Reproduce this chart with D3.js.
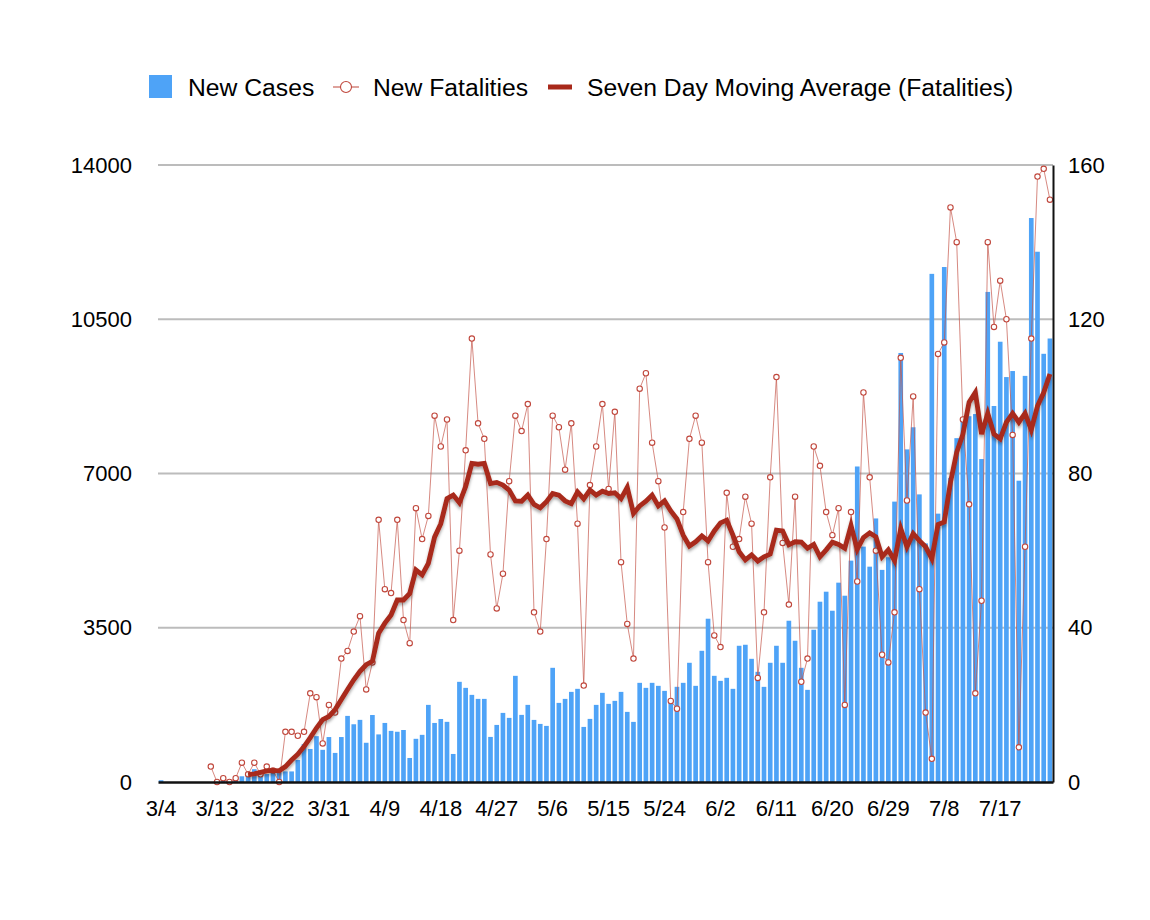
<!DOCTYPE html>
<html>
<head>
<meta charset="utf-8">
<script src="https://cdn.jsdelivr.net/npm/d3@7"></script>
<style>
	body { margin: 0; background: #fff; }
	svg { font-family: "Liberation Sans", Arial, Helvetica, sans-serif; }
</style>
</head>
<body>
<div id="chart01"></div>
<script>
// Days from 3/4 to 7/25 (one category per day)
var days = d3.timeDay
	.range(new Date(2020, 2, 4), new Date(2020, 6, 26))
	.map(d3.timeFormat("%-m/%-d"));

var tickLabels = ["3/4", "3/13", "3/22", "3/31", "4/9", "4/18", "4/27", "5/6",
	"5/15", "5/24", "6/2", "6/11", "6/20", "6/29", "7/8", "7/17"];
var leftTicks = [0, 3500, 7000, 10500, 14000];
var rightTicks = [0, 40, 80, 120, 160];

// New cases, one value per day (3/4 .. 7/25)
var newCases = [
	40, 0, 0, 0, 0, 0, 0, 0, 0, 0,
	30, 40, 60, 130, 170, 290, 160, 180, 270, 240,
	240, 240, 500, 860, 750, 1040, 730, 1020, 660, 1020,
	1500, 1310, 1410, 890, 1520, 1080, 1340, 1160, 1140, 1180,
	545, 980, 1070, 1750, 1340, 1430, 1365, 636, 2273, 2136,
	1977, 1886, 1886, 1023, 1295, 1568, 1455, 2409, 1523, 1750,
	1409, 1318, 1273, 2591, 1795, 1886, 2045, 2114, 1250, 1432,
	1750, 2023, 1773, 1841, 2045, 1591, 1364, 2250, 2136, 2250,
	2182, 2068, 1830, 2160, 2250, 2705, 2182, 2977, 3705, 2409,
	2295, 2364, 2114, 3091, 3114, 2795, 2500, 2159, 2705, 3091,
	2705, 3659, 3205, 2591, 2091, 3455, 4091, 4318, 3886, 4523,
	4227, 5023, 7159, 5341, 4886, 5980, 4813, 5100, 6362, 9735,
	7547, 8049, 6526, 5414, 11530, 6089, 11685, 6900, 7802, 8213,
	8300, 8349, 7328, 11120, 8532, 9990, 9188, 9325, 6836, 9215,
	12797, 12032, 9716, 10063
];

// New fatalities (null before the first report)
var newFatalities = [
	null, null, null, null, null, null, null, null, 4, 0,
	1, 0, 1, 5, 2, 5, 2, 4, 3, 0,
	13, 13, 12, 13, 23, 22, 10, 20, 18, 32,
	34, 39, 43, 24, 31, 68, 50, 49, 68, 42,
	36, 71, 63, 69, 95, 87, 94, 42, 60, 86,
	115, 93, 89, 59, 45, 54, 78, 95, 91, 98,
	44, 39, 63, 95, 92, 81, 93, 67, 25, 77,
	87, 98, 76, 96, 57, 41, 32, 102, 106, 88,
	78, 66, 21, 19, 70, 89, 95, 88, 57, 38,
	35, 75, 61, 63, 74, 67, 27, 44, 79, 105,
	62, 46, 74, 26, 32, 87, 82, 70, 64, 71,
	20, 70, 52, 101, 79, 60, 33, 31, 44, 110,
	73, 100, 50, 18, 6, 111, 114, 149, 140, 94,
	72, 23, 47, 140, 118, 130, 120, 90, 9, 61,
	115, 157, 159, 151
];

// Seven day moving average of fatalities (as drawn)
var movingAvg = [
	null, null, null, null, null, null, null, null, null, null,
	null, null, null, null, 1.9, 2.1, 2.5, 2.9, 3.0, 2.9,
	4.0, 5.7, 7.2, 9.2, 11.5, 14, 16.2, 17, 18.8, 21.4,
	24, 26.5, 28.7, 30.4, 31.3, 38.6, 41.2, 43.3, 47.2, 47.2,
	48.9, 55, 53.7, 56.7, 63.5, 67, 73.5, 74.4, 72.4, 76.6,
	82.6, 82.4, 82.6, 77.4, 77.7, 77, 75.7, 72.9, 72.8, 74.4,
	72, 71.1, 72.7, 74.8, 74.4, 72.9, 72.2, 75.2, 73.4, 75.7,
	74.4, 75.4, 74.8, 75, 73.5, 76.4, 69.7, 71.6, 72.8, 74.4,
	71.6, 72.9, 70.3, 68.2, 64, 61.2, 62.3, 63.8, 62.5, 65.1,
	67.2, 67.9, 64, 59.7, 57.6, 58.9, 57.3, 58.4, 59.1, 65.3,
	65.1, 61.5, 62.3, 62.2, 60.6, 61.6, 58.4, 60.2, 62.2, 61.6,
	60.6, 66.5, 60.3, 63.4, 64.6, 63.6, 58.4, 60.2, 57.4, 65.7,
	61, 64.4, 62.6, 61, 57.9, 66.8, 67.4, 77.7, 85.5, 90.2,
	98.5, 101, 90.2, 95.6, 90.2, 89, 93.3, 95.6, 93.3, 95.6,
	91.3, 97.5, 101, 105.8
];

var rows = days.map((d, i) => ({
	day: d,
	cases: newCases[i],
	deaths: newFatalities[i],
	avg: movingAvg[i]
}));

var width = 1150;
var height = 920;
var margin = { top: 165, right: 97, bottom: 138, left: 158 };

var svg = d3.select("#chart01").append("svg")
	.attr("width", width)
	.attr("height", height);

svg.append("rect").attr("width", width).attr("height", height).attr("fill", "#fff");

var defs = svg.append("defs");
defs.append("filter")
	.attr("id", "shadow")
	.attr("x", "-5%").attr("y", "-20%")
	.attr("width", "110%").attr("height", "140%")
	.append("feDropShadow")
	.attr("dx", 0).attr("dy", 2.5)
	.attr("stdDeviation", 1.6)
	.attr("flood-color", "#000")
	.attr("flood-opacity", 0.35);

var x = d3.scaleBand()
	.domain(days)
	.range([margin.left, width - margin.right])
	.paddingInner(0.25)
	.paddingOuter(0.12);

var yLeft = d3.scaleLinear().domain([0, 14000]).range([height - margin.bottom, margin.top]);
var yRight = d3.scaleLinear().domain([0, 160]).range([height - margin.bottom, margin.top]);

var cx = (d) => x(d) + x.bandwidth() / 2;

// Gridlines
svg.append("g")
	.selectAll("line")
	.data(leftTicks.filter((t) => t > 0))
	.join("line")
	.attr("x1", margin.left)
	.attr("x2", width - margin.right)
	.attr("y1", (d) => yLeft(d))
	.attr("y2", (d) => yLeft(d))
	.attr("stroke", "#bcbcbc")
	.attr("stroke-width", 2);

// New cases bars
svg.append("g")
	.selectAll("rect")
	.data(rows)
	.join("rect")
	.attr("x", (d) => x(d.day))
	.attr("y", (d) => yLeft(d.cases))
	.attr("width", x.bandwidth())
	.attr("height", (d) => yLeft(0) - yLeft(d.cases))
	.attr("fill", "#4ea3f7");

// New fatalities line + markers
var deathRows = rows.filter((d) => d.deaths != null);
svg.append("path")
	.datum(deathRows)
	.attr("fill", "none")
	.attr("stroke", "#c4574b")
	.attr("stroke-opacity", 0.7)
	.attr("stroke-width", 1)
	.attr("d", d3.line().x((d) => cx(d.day)).y((d) => yRight(d.deaths)));

svg.append("g")
	.selectAll("circle")
	.data(deathRows)
	.join("circle")
	.attr("cx", (d) => cx(d.day))
	.attr("cy", (d) => yRight(d.deaths))
	.attr("r", 2.7)
	.attr("fill", "#fff")
	.attr("stroke", "#c0473c")
	.attr("stroke-width", 1.1);

// Seven day moving average
svg.append("path")
	.datum(rows.filter((d) => d.avg != null))
	.attr("fill", "none")
	.attr("stroke", "#a8291a")
	.attr("stroke-width", 4.8)
	.attr("stroke-linejoin", "miter")
	.attr("filter", "url(#shadow)")
	.attr("d", d3.line().x((d) => cx(d.day)).y((d) => yRight(d.avg)));

// X-axis
var xAxis = svg.append("g")
	.attr("transform", `translate(0, ${height - margin.bottom})`)
	.call(d3.axisBottom(x).tickValues(tickLabels).tickSize(0).tickSizeOuter(0).tickPadding(18));
xAxis.select(".domain").attr("stroke", "#111").attr("stroke-width", 2.4);
xAxis.selectAll("text").attr("font-size", "22px").attr("fill", "#000")
	.attr("font-family", "Liberation Sans, Arial, sans-serif");

// Left Y-axis
var yAxisL = svg.append("g")
	.attr("transform", `translate(${margin.left}, 0)`)
	.call(d3.axisLeft(yLeft).tickValues(leftTicks).tickSize(0).tickPadding(26).tickFormat(d3.format("d")));
yAxisL.select(".domain").remove();
yAxisL.selectAll("text").attr("font-size", "22px").attr("fill", "#000")
	.attr("font-family", "Liberation Sans, Arial, sans-serif");

// Right Y-axis
var yAxisR = svg.append("g")
	.attr("transform", `translate(${width - margin.right}, 0)`)
	.call(d3.axisRight(yRight).tickValues(rightTicks).tickSize(0).tickSizeOuter(0).tickPadding(15));
yAxisR.select(".domain").attr("stroke", "#111").attr("stroke-width", 2);
yAxisR.selectAll("text").attr("font-size", "22px").attr("fill", "#000")
	.attr("font-family", "Liberation Sans, Arial, sans-serif");

// Legend
var legend = svg.append("g").attr("font-size", "24.7px");
legend.append("rect")
	.attr("x", 149).attr("y", 75).attr("width", 23).attr("height", 23)
	.attr("fill", "#4ea3f7");
legend.append("text").attr("x", 188).attr("y", 96).text("New Cases");

legend.append("line")
	.attr("x1", 333).attr("x2", 359).attr("y1", 87).attr("y2", 87)
	.attr("stroke", "#c4574b").attr("stroke-width", 1.1);
legend.append("circle")
	.attr("cx", 346).attr("cy", 87).attr("r", 5.5)
	.attr("fill", "#fff").attr("stroke", "#c0473c").attr("stroke-width", 1.1);
legend.append("text").attr("x", 373).attr("y", 96).text("New Fatalities");

legend.append("line")
	.attr("x1", 548).attr("x2", 572).attr("y1", 87).attr("y2", 87)
	.attr("stroke", "#a8291a").attr("stroke-width", 5);
legend.append("text").attr("x", 587).attr("y", 96).text("Seven Day Moving Average (Fatalities)");
</script>
</body>
</html>
